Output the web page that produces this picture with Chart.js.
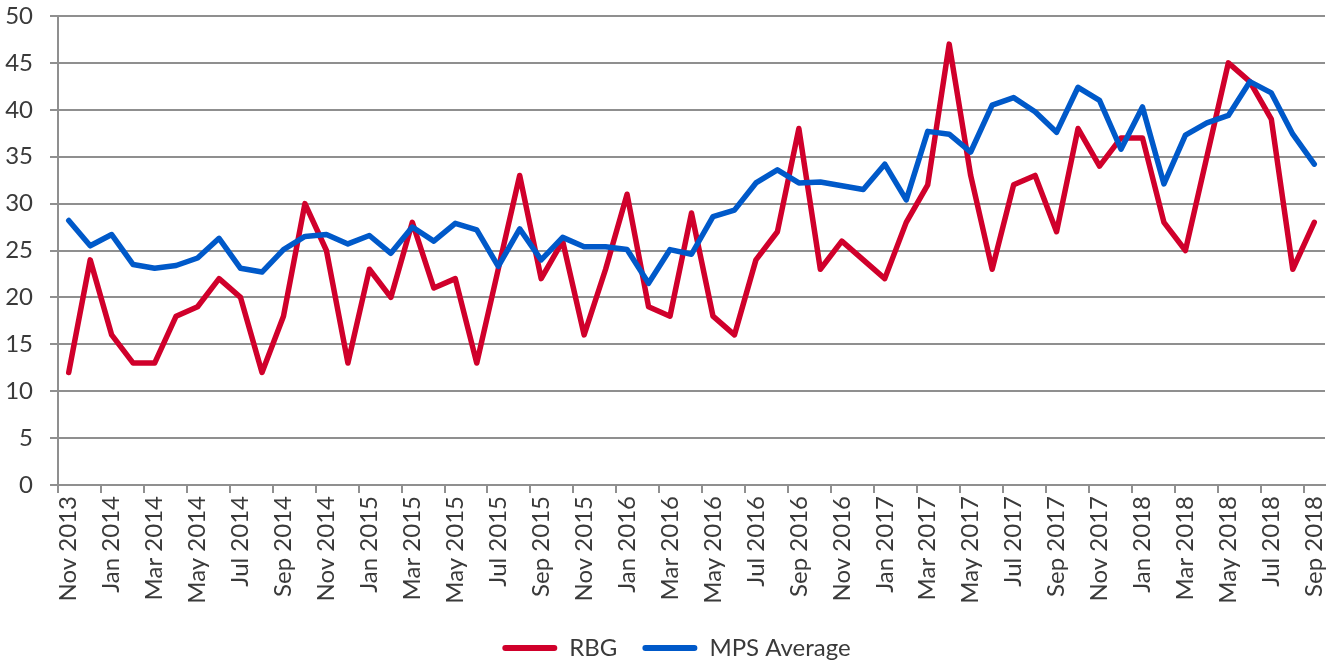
<!DOCTYPE html>
<html>
<head>
<meta charset="utf-8">
<script src="https://cdn.jsdelivr.net/npm/chart.js@4/dist/chart.umd.min.js"></script>
<style>
  html, body { margin: 0; padding: 0; background: #fff; overflow: hidden; }
  #wrap { width: 1334px; height: 670px; position: relative; }
</style>
</head>
<body>
<div id="wrap"><canvas id="lineChart"></canvas></div>
<script>
const months = [
  "Nov 2013", "Dec 2013",
  "Jan 2014", "Feb 2014", "Mar 2014", "Apr 2014", "May 2014", "Jun 2014",
  "Jul 2014", "Aug 2014", "Sep 2014", "Oct 2014", "Nov 2014", "Dec 2014",
  "Jan 2015", "Feb 2015", "Mar 2015", "Apr 2015", "May 2015", "Jun 2015",
  "Jul 2015", "Aug 2015", "Sep 2015", "Oct 2015", "Nov 2015", "Dec 2015",
  "Jan 2016", "Feb 2016", "Mar 2016", "Apr 2016", "May 2016", "Jun 2016",
  "Jul 2016", "Aug 2016", "Sep 2016", "Oct 2016", "Nov 2016", "Dec 2016",
  "Jan 2017", "Feb 2017", "Mar 2017", "Apr 2017", "May 2017", "Jun 2017",
  "Jul 2017", "Aug 2017", "Sep 2017", "Oct 2017", "Nov 2017", "Dec 2017",
  "Jan 2018", "Feb 2018", "Mar 2018", "Apr 2018", "May 2018", "Jun 2018",
  "Jul 2018", "Aug 2018", "Sep 2018"
];

const rbg = [
  12, 24, 16, 13, 13, 18, 19, 22, 20, 12, 18, 30, 25, 13, 23, 20, 28, 21, 22, 13,
  23, 33, 22, 26, 16, 23, 31, 19, 18, 29, 18, 16, 24, 27, 38, 23, 26, 24, 22, 28,
  32, 47, 33, 23, 32, 33, 27, 38, 34, 37, 37, 28, 25, 35, 45, 43, 39, 23, 28
];

const mpsAverage = [
  28.2, 25.5, 26.7, 23.5, 23.1, 23.4, 24.2, 26.3, 23.1, 22.7,
  25.1, 26.5, 26.7, 25.7, 26.6, 24.7, 27.5, 26.0, 27.9, 27.2,
  23.3, 27.3, 24.0, 26.4, 25.4, 25.4, 25.1, 21.5, 25.1, 24.6,
  28.6, 29.3, 32.2, 33.6, 32.2, 32.3, 31.9, 31.5, 34.2, 30.4,
  37.7, 37.4, 35.5, 40.5, 41.3, 39.8, 37.6, 42.4, 41.0, 35.8,
  40.3, 32.1, 37.3, 38.6, 39.4, 43.0, 41.8, 37.4, 34.2
];

const yTicks = { min: 0, max: 50, step: 5 };

const red = "#d0002b";
const blue = "#0059c9";
const gray = "#8f8f8f";
const textColor = "#3a3a3a";
const font = { family: "Lato", size: 24 };

Chart.defaults.font.family = "Lato";

// nudge the legend a bit to the right, as in the original
const legendShift = {
  id: "legendShift",
  afterLayout(chart) {
    chart.legend.left += 14;
    chart.legend.right += 14;
  },
};

const ctx = document.getElementById("lineChart").getContext("2d");
new Chart(ctx, {
  type: "line",
  data: {
    labels: months,
    datasets: [
      {
        label: "RBG",
        data: rbg,
        borderColor: red,
        backgroundColor: red,
        borderWidth: 5.5,
        pointRadius: 0,
        borderJoinStyle: "round",
        borderCapStyle: "round",
        order: 1,
      },
      {
        label: "MPS Average",
        data: mpsAverage,
        borderColor: blue,
        backgroundColor: blue,
        borderWidth: 5.5,
        pointRadius: 0,
        borderJoinStyle: "round",
        borderCapStyle: "round",
        order: 0,
      },
    ],
  },
  options: {
    responsive: true,
    maintainAspectRatio: false,
    animation: false,
    layout: { padding: { top: 16, right: 9, left: 0, bottom: 0 } },
    plugins: {
      tooltip: { enabled: false },
      legend: {
        position: "bottom",
        labels: {
          boxWidth: 55,
          boxHeight: 6,
          padding: 25,
          color: textColor,
          font: font,
          useBorderRadius: true,
          borderRadius: 3,
          sort: (a, b) => a.datasetIndex - b.datasetIndex,
          generateLabels: (chart) =>
            Chart.defaults.plugins.legend.labels
              .generateLabels(chart)
              .map((item) => ({ ...item, lineWidth: 0 })),
        },
      },
    },
    scales: {
      x: {
        offset: true,
        grid: {
          offset: true,
          drawOnChartArea: false,
          tickLength: 8,
          lineWidth: 2,
          color: (c) => (c.index % 2 === 0 ? gray : "rgba(0,0,0,0)"),
        },
        border: { color: gray, width: 2 },
        ticks: {
          autoSkip: false,
          minRotation: 90,
          maxRotation: 90,
          padding: 3,
          color: textColor,
          font: font,
          callback: (v, i) => (i % 2 === 0 ? months[i] : ""),
        },
        afterFit: (scale) => {
          scale.height = 126;
          scale.paddingLeft = 0;
          scale.paddingRight = 0;
        },
      },
      y: {
        min: yTicks.min,
        max: yTicks.max,
        ticks: { stepSize: yTicks.step, padding: 17, color: textColor, font: font },
        grid: { color: gray, lineWidth: 2, tickLength: 8 },
        border: { color: gray, width: 2 },
        afterFit: (scale) => {
          scale.width = 58;
          scale.paddingTop = 0;
          scale.paddingBottom = 0;
        },
      },
    },
  },
  plugins: [legendShift],
});
</script>
</body>
</html>
